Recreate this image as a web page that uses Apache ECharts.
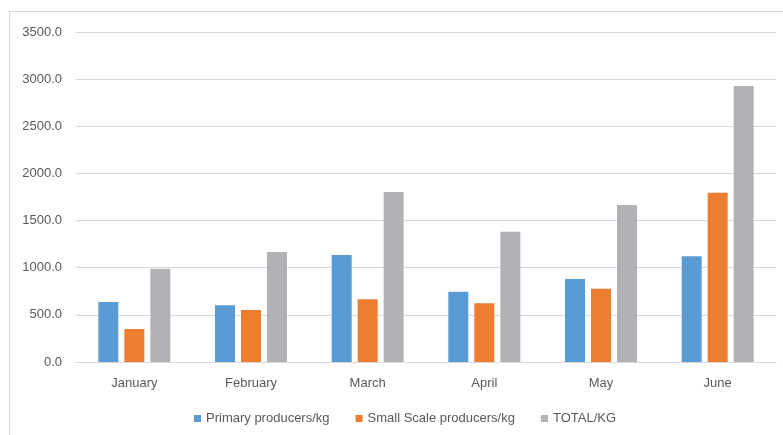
<!DOCTYPE html>
<html><head><meta charset="utf-8">
<script src="https://cdn.jsdelivr.net/npm/echarts@6/dist/echarts.min.js"></script>
<style>
html,body{margin:0;padding:0;background:#fff;overflow:hidden;}
#frame{position:absolute;left:9px;top:11px;width:800px;height:440px;border:1px solid #d9d9d9;box-sizing:border-box;}
#chart{position:absolute;left:0;top:0;width:783px;height:435px;}
</style></head>
<body>
<div id="frame"></div>
<div id="chart"></div>
<script>
const categories = ['January','February','March','April','May','June'];
const primary = [636, 601, 1135, 746, 880, 1121];
const smallScale = [350, 551, 665, 622, 778, 1796];
const total = [990, 1167, 1803, 1382, 1665, 2927];
const seriesNames = ['Primary producers/kg','Small Scale producers/kg','TOTAL/KG'];
const yTicks = {min:0, max:3500, interval:500};

const chart = echarts.init(document.getElementById('chart'));
const font = 'Liberation Sans, Arial, sans-serif';
chart.setOption({
  animation:false,
  color:['#5B9BD5','#ED7D31','#B1B2B5'],
  grid:{left:76, right:7, top:32, bottom:73},
  legend:{
    left:189, top:407, itemWidth:7, itemHeight:7, itemGap:26, icon:'rect',
    textStyle:{color:'#595959', fontSize:13, fontFamily:font},
    data:seriesNames
  },
  xAxis:{
    type:'category', data:categories,
    axisLine:{lineStyle:{color:'#d9d9d9', width:1}},
    axisTick:{show:false},
    axisLabel:{color:'#595959', fontSize:13, fontFamily:font, margin:15}
  },
  yAxis:{
    type:'value', min:yTicks.min, max:yTicks.max, interval:yTicks.interval,
    axisLine:{show:false}, axisTick:{show:false},
    splitLine:{lineStyle:{color:'#d9d9d9', width:1}},
    axisLabel:{color:'#595959', fontSize:13, fontFamily:font, margin:14,
      formatter:v=>v.toFixed(1)}
  },
  series:[
    {name:seriesNames[0], type:'bar', data:primary, barWidth:20, barGap:'30%'},
    {name:seriesNames[1], type:'bar', data:smallScale, barWidth:20, barGap:'30%'},
    {name:seriesNames[2], type:'bar', data:total, barWidth:20, barGap:'30%'}
  ]
});
</script>
</body></html>
